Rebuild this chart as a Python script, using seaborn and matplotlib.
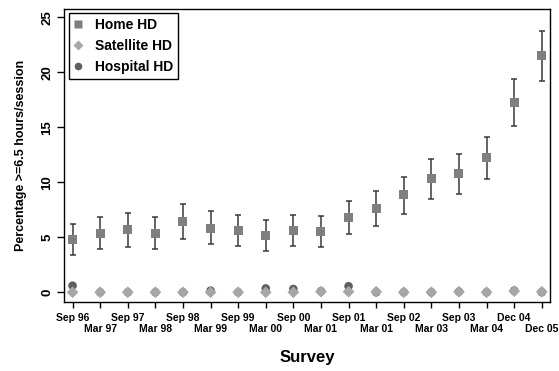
import numpy as np
import pandas as pd
import matplotlib
matplotlib.use("Agg")
import matplotlib.pyplot as plt
import seaborn as sns
from matplotlib.lines import Line2D

# Survey rounds (labels kept exactly as printed on the axis)
surveys = ["Sep 96", "Mar 97", "Sep 97", "Mar 98", "Sep 98", "Mar 99",
           "Sep 99", "Mar 00", "Sep 00", "Mar 01", "Sep 01", "Mar 01",
           "Sep 02", "Mar 03", "Sep 03", "Mar 04", "Dec 04", "Dec 05"]

# Home haemodialysis: estimate with 95% interval
home = [4.8, 5.3, 5.7, 5.35, 6.4, 5.8, 5.6, 5.15, 5.65, 5.5, 6.8, 7.6,
        8.85, 10.3, 10.8, 12.25, 17.27, 21.5]
home_lo = [3.4, 3.9, 4.15, 3.95, 4.85, 4.35, 4.2, 3.75, 4.2, 4.15, 5.3, 6.0,
           7.15, 8.5, 8.95, 10.3, 15.1, 19.2]
home_hi = [6.2, 6.8, 7.2, 6.8, 8.0, 7.35, 7.05, 6.55, 7.05, 6.9, 8.25, 9.2,
           10.5, 12.1, 12.6, 14.15, 19.36, 23.7]

# Satellite and hospital haemodialysis
satellite = [0.0, 0.0, 0.0, 0.0, 0.0, 0.0, 0.0, 0.0, 0.0, 0.05, 0.05, 0.05,
             0.0, 0.0, 0.05, 0.0, 0.1, 0.05]
hospital = [0.6, 0.0, 0.0, 0.0, 0.0, 0.15, 0.0, 0.35, 0.3, 0.1, 0.55, 0.0,
            0.0, 0.0, 0.05, 0.0, 0.15, 0.0]

sns.set_theme(style="white")
plt.rcParams["font.family"] = ["Liberation Sans", "DejaVu Sans"]
plt.rcParams["font.weight"] = "bold"
plt.rcParams["text.color"] = "black"
plt.rcParams["axes.labelcolor"] = "black"
plt.rcParams["xtick.color"] = "black"
plt.rcParams["ytick.color"] = "black"

x = np.arange(len(surveys))
df = pd.DataFrame({"x": x, "home": home, "satellite": satellite,
                   "hospital": hospital})

c_home = "#7f7f7f"
c_sat = "#a6a6a6"
c_hosp = "#5e5e5e"
c_err = "#3a3a3a"

fig = plt.figure(figsize=(5.59, 3.71), dpi=100)
ax = fig.add_axes([0.115, 0.187, 0.869, 0.789])

err = np.vstack([np.array(home) - np.array(home_lo),
                 np.array(home_hi) - np.array(home)])
ax.errorbar(x, home, yerr=err, fmt="none", ecolor=c_err, elinewidth=1.1,
            capsize=2.3, capthick=1.1, zorder=2)

sns.scatterplot(data=df, x="x", y="home", marker="s", s=42, color=c_home,
                edgecolor="none", ax=ax, zorder=3)
sns.scatterplot(data=df, x="x", y="hospital", marker="o", s=38, color=c_hosp,
                edgecolor="none", ax=ax, zorder=3)
sns.scatterplot(data=df, x="x", y="satellite", marker="D", s=36, color=c_sat,
                edgecolor="none", ax=ax, zorder=4)

ax.set_xlim(-0.3, len(surveys) - 0.7)
ax.set_ylim(-0.85, 25.75)

ax.set_xticks(x)
ax.set_xticklabels(surveys, fontsize=7.5, fontweight="bold")
ax.set_yticks([0, 5, 10, 15, 20, 25])
ax.set_yticklabels(["0", "5", "10", "15", "20", "25"], fontsize=9.5,
                   fontweight="bold", rotation=90, va="center")
ax.tick_params(axis="x", direction="out", length=4, width=1, color="black",
               pad=4, bottom=True)
ax.tick_params(axis="y", direction="out", length=5, width=1, color="black",
               pad=3, left=True)
# alternate x labels on two rows
for i, tick in enumerate(ax.xaxis.get_major_ticks()):
    if i % 2 == 1:
        tick.set_pad(4 + 8.4)

ax.set_xlabel("Survey", fontsize=12, fontweight="bold", labelpad=11)
ax.set_ylabel("Percentage >=6.5 hours/session", fontsize=9,
              fontweight="bold", labelpad=10)

for sp in ax.spines.values():
    sp.set_visible(True)
    sp.set_color("black")
    sp.set_linewidth(1.0)

handles = [
    Line2D([], [], ls="none", marker="s", ms=5.5, color=c_home, mec="none"),
    Line2D([], [], ls="none", marker="D", ms=5.5, color=c_sat, mec="none"),
    Line2D([], [], ls="none", marker="o", ms=5.5, color=c_hosp, mec="none"),
]
leg = ax.legend(handles, ["Home HD", "Satellite HD", "Hospital HD"],
                loc="upper left", bbox_to_anchor=(0.004, 0.995),
                prop={"size": 10, "weight": "bold"}, frameon=True,
                fancybox=False, edgecolor="black", framealpha=1,
                handlelength=0.6, handletextpad=0.9, borderpad=0.35,
                labelspacing=0.5, borderaxespad=0.2)
leg.get_frame().set_linewidth(1.0)

fig.savefig("out.png", dpi=100)
